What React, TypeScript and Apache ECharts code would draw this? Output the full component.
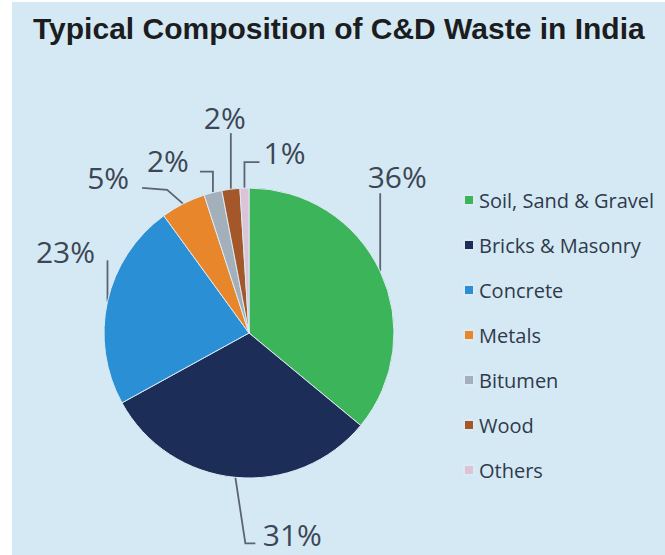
import React, { useEffect, useRef } from "react";
import * as echarts from "echarts";

const categories = [
  "Soil, Sand & Gravel",
  "Bricks & Masonry",
  "Concrete",
  "Metals",
  "Bitumen",
  "Wood",
  "Others",
];
const shares = [36, 31, 23, 5, 2, 2, 1];
const colors = ["#3cb45a", "#1c2e58", "#2a8fd5", "#e8862b", "#a3afbb", "#a4582a", "#dcc4d8"];

// label placement relative to each slice's outer edge point (layout only)
const labelOffsets = [
  [17, -95],
  [57, 57],
  [-42, -50],
  [-75, -26],
  [-45, -32],
  [-6, -72],
  [40, -36],
];
const lineBends = [
  [[0, -78]],
  [[10, 66], [20, 66]],
  [[0, -41]],
  [[-16, -14], [-41, -16]],
  [[0, -21], [-13, -21]],
  [[0, -56]],
  [[0, -26], [15, -26]],
];

export default function App() {
  const ref = useRef<HTMLDivElement>(null);
  useEffect(() => {
    if (!ref.current) return;
    const chart = echarts.init(ref.current, undefined, { renderer: "svg" });
    chart.setOption({
      animation: false,
      backgroundColor: "#ffffff",
      color: colors,
      graphic: [
        {
          type: "rect",
          z: -10,
          shape: { x: 12, y: 2, width: 653, height: 553 },
          style: { fill: "#d5e9f5" },
          silent: true,
        },
      ],
      title: {
        text: "Typical Composition of C&D Waste in India",
        left: 28,
        top: 8,
        textStyle: {
          fontFamily: "Liberation Sans",
          fontWeight: "bold",
          fontSize: 30,
          color: "#1b1d20",
        },
      },
      legend: {
        orient: "vertical",
        left: 458,
        top: 184,
        itemWidth: 10,
        itemHeight: 10,
        itemGap: 23,
        icon: "rect",
        data: categories,
        textStyle: {
          fontFamily: "Open Sans",
          fontSize: 20,
          lineHeight: 22,
          color: "#2f3a4a",
        },
      },
      series: [
        {
          type: "pie",
          center: [249, 333],
          radius: 145,
          startAngle: 90,
          clockwise: true,
          avoidLabelOverlap: false,
          itemStyle: { borderColor: "#dceaf3", borderWidth: 1 },
          label: {
            show: true,
            position: "outside",
            formatter: "{c}%",
            fontFamily: "Open Sans",
            fontSize: 30,
            color: "#3d4654",
          },
          labelLine: {
            show: true,
            lineStyle: { color: "#5b6470", width: 1.8 },
          },
          labelLayout: (params: any) => {
            const i = params.dataIndex;
            const pts = params.labelLinePoints;
            if (!pts || !pts[0]) return {};
            const p0 = pts[0];
            const off = labelOffsets[i];
            const linePts = [[p0[0], p0[1]]].concat(
              lineBends[i].map((b) => [p0[0] + b[0], p0[1] + b[1]])
            );
            return {
              x: p0[0] + off[0],
              y: p0[1] + off[1],
              align: "center",
              verticalAlign: "middle",
              labelLinePoints: linePts,
            };
          },
          emphasis: { disabled: true },
          data: categories.map((name, i) => ({ name, value: shares[i] })),
        },
      ],
    });
    return () => chart.dispose();
  }, []);
  return (
    <div
      ref={ref}
      style={{ position: "absolute", left: 0, top: 0, width: 665, height: 555 }}
    />
  );
}
